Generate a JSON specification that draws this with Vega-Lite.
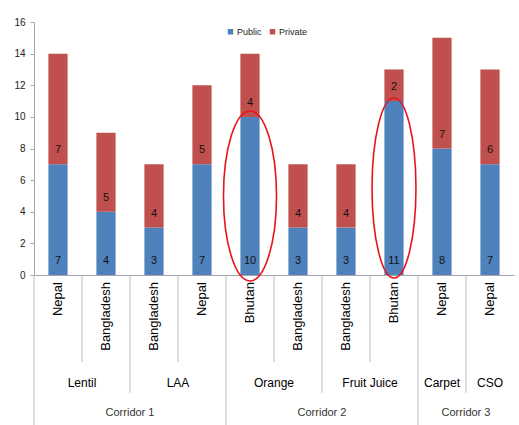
{
  "$schema": "https://vega.github.io/schema/vega-lite/v6.json",
  "width": 480,
  "height": 253,
  "autosize": {"type": "none"},
  "padding": {"left": 34, "top": 22, "right": 5, "bottom": 150},
  "background": "white",
  "config": {
    "view": {"stroke": null},
    "font": "Liberation Sans",
    "text": {"color": "#111111"}
  },
  "data": {
    "values": [
      {"id": "Lentil|Nepal", "corridor": "Corridor 1", "group": "Lentil", "country": "Nepal", "type": "Public", "value": 7},
      {"id": "Lentil|Nepal", "corridor": "Corridor 1", "group": "Lentil", "country": "Nepal", "type": "Private", "value": 7},
      {"id": "Lentil|Bangladesh", "corridor": "Corridor 1", "group": "Lentil", "country": "Bangladesh", "type": "Public", "value": 4},
      {"id": "Lentil|Bangladesh", "corridor": "Corridor 1", "group": "Lentil", "country": "Bangladesh", "type": "Private", "value": 5},
      {"id": "LAA|Bangladesh", "corridor": "Corridor 1", "group": "LAA", "country": "Bangladesh", "type": "Public", "value": 3},
      {"id": "LAA|Bangladesh", "corridor": "Corridor 1", "group": "LAA", "country": "Bangladesh", "type": "Private", "value": 4},
      {"id": "LAA|Nepal", "corridor": "Corridor 1", "group": "LAA", "country": "Nepal", "type": "Public", "value": 7},
      {"id": "LAA|Nepal", "corridor": "Corridor 1", "group": "LAA", "country": "Nepal", "type": "Private", "value": 5},
      {"id": "Orange|Bhutan", "corridor": "Corridor 2", "group": "Orange", "country": "Bhutan", "type": "Public", "value": 10},
      {"id": "Orange|Bhutan", "corridor": "Corridor 2", "group": "Orange", "country": "Bhutan", "type": "Private", "value": 4},
      {"id": "Orange|Bangladesh", "corridor": "Corridor 2", "group": "Orange", "country": "Bangladesh", "type": "Public", "value": 3},
      {"id": "Orange|Bangladesh", "corridor": "Corridor 2", "group": "Orange", "country": "Bangladesh", "type": "Private", "value": 4},
      {"id": "Fruit Juice|Bangladesh", "corridor": "Corridor 2", "group": "Fruit Juice", "country": "Bangladesh", "type": "Public", "value": 3},
      {"id": "Fruit Juice|Bangladesh", "corridor": "Corridor 2", "group": "Fruit Juice", "country": "Bangladesh", "type": "Private", "value": 4},
      {"id": "Fruit Juice|Bhutan", "corridor": "Corridor 2", "group": "Fruit Juice", "country": "Bhutan", "type": "Public", "value": 11},
      {"id": "Fruit Juice|Bhutan", "corridor": "Corridor 2", "group": "Fruit Juice", "country": "Bhutan", "type": "Private", "value": 2},
      {"id": "Carpet|Nepal", "corridor": "Corridor 3", "group": "Carpet", "country": "Nepal", "type": "Public", "value": 8},
      {"id": "Carpet|Nepal", "corridor": "Corridor 3", "group": "Carpet", "country": "Nepal", "type": "Private", "value": 7},
      {"id": "CSO|Nepal", "corridor": "Corridor 3", "group": "CSO", "country": "Nepal", "type": "Public", "value": 7},
      {"id": "CSO|Nepal", "corridor": "Corridor 3", "group": "CSO", "country": "Nepal", "type": "Private", "value": 6}
    ]
  },
  "transform": [
    {"stack": "value", "groupby": ["id"], "sort": [{"field": "type", "order": "descending"}], "as": ["v0", "v1"]}
  ],
  "resolve": {"axis": {"x": "independent", "y": "independent"}},
  "layer": [
    {
      "mark": {"type": "bar"},
      "encoding": {
        "x": {
          "field": "id", "type": "nominal", "sort": null,
          "scale": {"paddingInner": 0.6, "paddingOuter": 0.3},
          "axis": {"labels": false, "ticks": false, "title": null, "domainColor": "#a6a6a6"}
        },
        "y": {
          "field": "v0", "type": "quantitative",
          "scale": {"domain": [0, 16], "nice": false},
          "axis": {
            "values": [0, 2, 4, 6, 8, 10, 12, 14, 16], "title": null, "grid": false,
            "labelOverlap": false, "tickSize": 4, "tickColor": "#a6a6a6", "domainColor": "#a6a6a6",
            "labelFontSize": 10, "labelColor": "#222222", "labelPadding": 5
          }
        },
        "y2": {"field": "v1"},
        "color": {
          "field": "type", "type": "nominal",
          "scale": {"domain": ["Public", "Private"], "range": ["#4f81bd", "#c0504d"]},
          "legend": {
            "title": null, "orient": "none", "legendX": 192, "legendY": 5,
            "direction": "horizontal", "symbolType": "square", "symbolSize": 30,
            "labelFontSize": 9, "labelColor": "#222222", "columnPadding": 6, "labelOffset": 2
          }
        }
      }
    },
    {
      "mark": {"type": "text", "baseline": "middle", "dy": -14, "fontSize": 11},
      "encoding": {
        "x": {"field": "id", "type": "nominal", "sort": null, "axis": null},
        "y": {"field": "v0", "type": "quantitative", "axis": null},
        "text": {"field": "value", "type": "quantitative"}
      }
    },
    {
      "transform": [
        {"filter": "datum.type == 'Public' && datum.id == 'Orange|Bhutan'"},
        {"calculate": "(datum.v0 + datum.v1) / 2", "as": "mid"}
      ],
      "mark": {
        "type": "point", "filled": false, "opacity": 1, "stroke": "#e8141c", "strokeWidth": 1.6,
        "shape": "M -0.312 0 A 0.312 1 0 1 0 0.312 0 A 0.312 1 0 1 0 -0.312 0 Z", "size": 28900
      },
      "encoding": {
        "x": {"field": "id", "type": "nominal", "sort": null, "axis": null},
        "y": {"field": "mid", "type": "quantitative", "axis": null}
      }
    },
    {
      "transform": [
        {"filter": "datum.type == 'Public' && datum.id == 'Fruit Juice|Bhutan'"},
        {"calculate": "(datum.v0 + datum.v1) / 2", "as": "mid"}
      ],
      "mark": {
        "type": "point", "filled": false, "opacity": 1, "stroke": "#e8141c", "strokeWidth": 1.6,
        "shape": "M -0.244 0 A 0.244 1 0 1 0 0.244 0 A 0.244 1 0 1 0 -0.244 0 Z", "size": 32400
      },
      "encoding": {
        "x": {"field": "id", "type": "nominal", "sort": null, "axis": null},
        "y": {"field": "mid", "type": "quantitative", "axis": null}
      }
    },
    {
      "transform": [
        {"filter": "datum.type == 'Public' && indexof(['Lentil|Bangladesh', 'LAA|Nepal', 'Orange|Bangladesh', 'Fruit Juice|Bhutan'], datum.id) >= 0"}
      ],
      "mark": {"type": "rule", "color": "#bdbdbd", "strokeWidth": 1},
      "encoding": {
        "x": {"field": "id", "type": "nominal", "sort": null, "bandPosition": -0.75, "axis": null},
        "y": {"datum": 0, "type": "quantitative", "axis": null},
        "y2": {"datum": -5.5}
      }
    },
    {
      "transform": [
        {"filter": "datum.type == 'Public' && indexof(['LAA|Bangladesh', 'Fruit Juice|Bangladesh', 'CSO|Nepal'], datum.id) >= 0"}
      ],
      "mark": {"type": "rule", "color": "#bdbdbd", "strokeWidth": 1},
      "encoding": {
        "x": {"field": "id", "type": "nominal", "sort": null, "bandPosition": -0.75, "axis": null},
        "y": {"datum": 0, "type": "quantitative", "axis": null},
        "y2": {"datum": -7.45}
      }
    },
    {
      "transform": [
        {"filter": "datum.type == 'Public' && indexof(['Lentil|Nepal', 'Orange|Bhutan', 'Carpet|Nepal'], datum.id) >= 0"}
      ],
      "mark": {"type": "rule", "color": "#bdbdbd", "strokeWidth": 1},
      "encoding": {
        "x": {"field": "id", "type": "nominal", "sort": null, "bandPosition": -0.75, "axis": null},
        "y": {"datum": 0, "type": "quantitative", "axis": null},
        "y2": {"datum": -9.6}
      }
    },
    {
      "transform": [{"filter": "datum.type == 'Public'"}],
      "mark": {"type": "text", "angle": 270, "align": "right", "baseline": "middle", "fontSize": 13, "color": "#000000"},
      "encoding": {
        "x": {"field": "id", "type": "nominal", "sort": null, "axis": null},
        "y": {"datum": -0.45, "type": "quantitative", "axis": null},
        "text": {"field": "country", "type": "nominal"}
      }
    },
    {
      "transform": [
        {"filter": "datum.type == 'Public' && indexof(['Lentil|Bangladesh', 'LAA|Nepal', 'Orange|Bangladesh', 'Fruit Juice|Bhutan'], datum.id) >= 0"}
      ],
      "mark": {"type": "text", "baseline": "middle", "fontSize": 12, "color": "#000000"},
      "encoding": {
        "x": {"field": "id", "type": "nominal", "sort": null, "bandPosition": -0.75, "axis": null},
        "y": {"datum": -6.83, "type": "quantitative", "axis": null},
        "text": {"field": "group", "type": "nominal"}
      }
    },
    {
      "transform": [
        {"filter": "datum.type == 'Public' && (datum.group == 'Carpet' || datum.group == 'CSO')"}
      ],
      "mark": {"type": "text", "baseline": "middle", "fontSize": 12, "color": "#000000"},
      "encoding": {
        "x": {"field": "id", "type": "nominal", "sort": null, "axis": null},
        "y": {"datum": -6.83, "type": "quantitative", "axis": null},
        "text": {"field": "group", "type": "nominal"}
      }
    },
    {
      "transform": [
        {"filter": "datum.type == 'Public' && indexof(['LAA|Bangladesh', 'Fruit Juice|Bangladesh', 'CSO|Nepal'], datum.id) >= 0"}
      ],
      "mark": {"type": "text", "baseline": "middle", "fontSize": 11, "color": "#333333"},
      "encoding": {
        "x": {"field": "id", "type": "nominal", "sort": null, "bandPosition": -0.75, "axis": null},
        "y": {"datum": -8.73, "type": "quantitative", "axis": null},
        "text": {"field": "corridor", "type": "nominal"}
      }
    }
  ]
}
